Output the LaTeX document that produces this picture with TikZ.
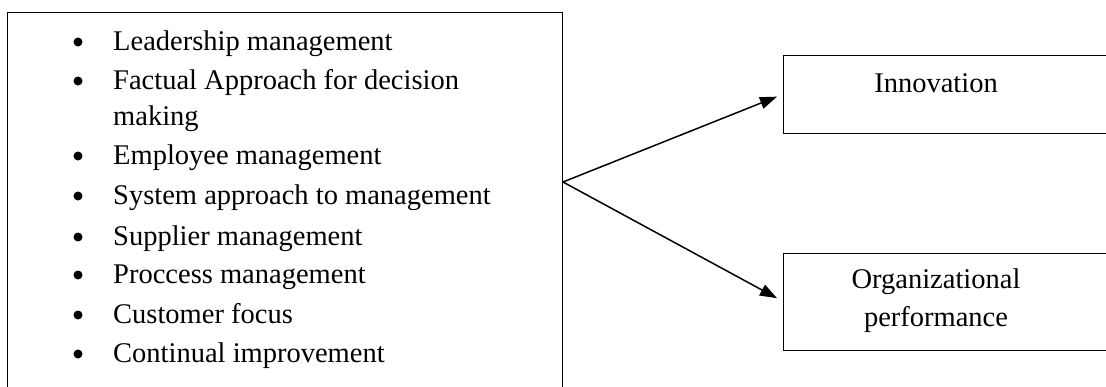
\documentclass[tikz,border=0pt]{standalone}
\usepackage{fontspec}
\setmainfont{Liberation Serif}
\usetikzlibrary{arrows.meta}
\tikzset{
  box/.style={draw, line width=1.3pt, anchor=north west, inner sep=0pt},
  dot/.style={circle, fill, inner sep=0pt, minimum size=9pt},
  item/.style={anchor=base west, inner sep=0pt},
  link/.style={line width=1.5pt, -{Triangle[length=17pt, width=12pt]}}
}
\begin{document}
\begin{tikzpicture}[x=1pt, y=-1pt, font=\fontsize{28.5}{39}\selectfont]
	\useasboundingbox (0,0) rectangle (1106,386);
	\clip (0,0) rectangle (1106,386);
	\node[box, minimum width=555pt, minimum height=400pt] (factors) at (7,12) {};
	\node[box, minimum width=340pt, minimum height=78pt] (innov) at (783,55) {};
	\node[box, minimum width=340pt, minimum height=97pt] (perf) at (783,253) {};
	\foreach \y/\txt [count=\i] in {50/Leadership management,
		89/Factual Approach for decision,
		164/Employee management,
		204/System approach to management,
		245/Supplier management,
		283/Proccess management,
		323/Customer focus,
		362/Continual improvement}{
		\node[dot] (dot\i) at (78,\y-8) {};
		\node[item] (item\i) at (113,\y) {\txt};
	}
	\node[item] (item2b) at (113,125) {making};
	\node (innovtext) at (936,83) {Innovation};
	\node[align=center, font=\fontsize{28.5}{38}\selectfont] (perftext) at (936,301) {Organizational\\performance};
	\coordinate (split) at (563,182);
	\draw[link] (split) -- ([xshift=-6pt, yshift=-2pt]innov.west);
	\draw[link] (split) -- ([xshift=-6pt, yshift=4pt]perf.west);
\end{tikzpicture}
\end{document}
